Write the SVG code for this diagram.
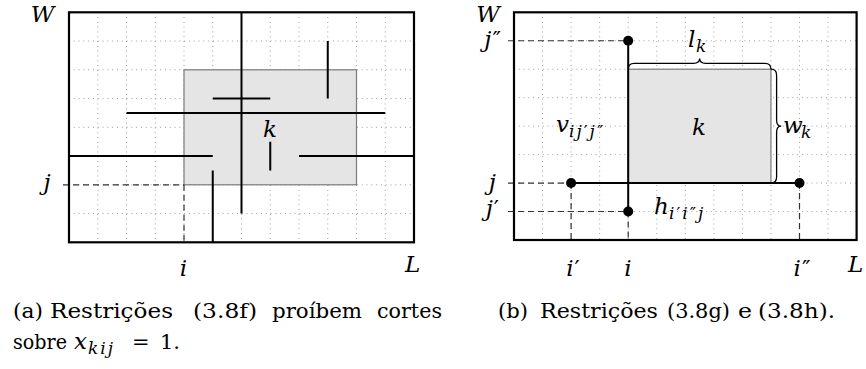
<svg xmlns="http://www.w3.org/2000/svg" width="866" height="369" viewBox="0 0 866 369">
<style>
.bg{fill:#fff}
.frame{fill:none;stroke:#000;stroke-width:2.2}
.grid{fill:none;stroke:#8a8a8a;stroke-width:0.9;stroke-dasharray:0.9 3.9}
.item{fill:#e5e5e5;stroke:#7a7a7a;stroke-width:1.2}
.cut{fill:none;stroke:#000;stroke-width:2}
.dash{fill:none;stroke:#333;stroke-width:1.2;stroke-dasharray:6 4}
.brace{fill:none;stroke:#000;stroke-width:1.3}
.dot{fill:#000}
.math{font-family:DejaVu Serif;font-style:italic;font-size:23px;fill:#000}
.sub{font-family:DejaVu Serif;font-style:italic;font-size:17px;letter-spacing:2px;fill:#000}
.pr{font-style:normal}
.cap{font-family:DejaVu Serif;font-size:21px;fill:#000}
</style>
<rect class="bg" x="0" y="0" width="866" height="369"/>

<!-- Panel (a) -->
<g id="panel-a" font-family="DejaVu Serif">
  <g id="a-grid">
    <path class="grid" d="M97.75,12.3V242.3M126.5,12.3V242.3M155.25,12.3V242.3M184,12.3V242.3M212.75,12.3V242.3M241.5,12.3V242.3M270.25,12.3V242.3M299,12.3V242.3M327.75,12.3V242.3M356.5,12.3V242.3M385.25,12.3V242.3M69,41.05H414M69,69.8H414M69,98.55H414M69,127.3H414M69,156.05H414M69,184.8H414M69,213.55H414"/>
  </g>
  <g id="a-item-k">
    <rect class="item" x="184" y="69.8" width="172.5" height="115"/>
    <text class="math" x="270" y="137" text-anchor="middle">k</text>
  </g>
  <g id="a-guides">
    <path class="dash" d="M63,184.8H184M184,184.8V242.3"/>
  </g>
  <g id="a-cuts">
    <path class="cut" d="M241.5,12.3V213.55M212.75,98.55H270.25M327.75,41.05V98.55M126.5,112.9H385.25M270.25,141.7V170.4M69,156.05H212.75M299,156.05H414M212.75,170.4V242.3"/>
  </g>
  <rect id="a-frame" class="frame" x="69" y="12.3" width="345" height="230"/>
  <g id="a-labels">
    <text class="math" x="42.5" y="22" text-anchor="middle">W</text>
    <text class="math" x="47" y="190" text-anchor="middle">j</text>
    <text class="math" x="183.5" y="276" text-anchor="middle">i</text>
    <text class="math" x="405" y="272">L</text>
  </g>
</g>

<!-- Panel (b) -->
<g id="panel-b" font-family="DejaVu Serif">
  <g id="b-grid">
    <path class="grid" d="M542.55,12.3V240M571.1,12.3V240M599.65,12.3V240M628.2,12.3V240M656.75,12.3V240M685.3,12.3V240M713.85,12.3V240M742.4,12.3V240M770.95,12.3V240M799.5,12.3V240M828.05,12.3V240M514,40.76H856.6M514,69.22H856.6M514,97.68H856.6M514,126.14H856.6M514,154.6H856.6M514,183.06H856.6M514,211.52H856.6"/>
  </g>
  <g id="b-item-k">
    <rect class="item" x="628.2" y="69.22" width="142.75" height="113.84"/>
    <text class="math" x="699" y="135" text-anchor="middle">k</text>
  </g>
  <g id="b-guides">
    <path class="dash" d="M508,40.76H628.2M508,183.06H571.1M508,211.52H628.2M571.1,183.06V240M628.2,211.52V240M799.5,183.06V240"/>
  </g>
  <g id="b-cuts">
    <path class="cut" d="M628.2,40.76V211.52M571.1,183.06H799.5"/>
    <circle class="dot" cx="628.2" cy="40.76" r="5"/>
    <circle class="dot" cx="628.2" cy="211.52" r="5"/>
    <circle class="dot" cx="571.1" cy="183.06" r="5"/>
    <circle class="dot" cx="799.5" cy="183.06" r="5"/>
  </g>
  <g id="b-braces">
    <path class="brace" d="M628.2,69.22Q628.2,63.3 634.2,63.3H693.6Q699.6,63.3 699.6,58.5Q699.6,63.3 705.6,63.3H765Q771,63.3 771,69.22"/>
    <path class="brace" d="M771,69.22Q776.6,69.22 776.6,75.2V120.2Q776.6,126.14 781.2,126.14Q776.6,126.14 776.6,132.1V177Q776.6,183.06 771,183.06"/>
  </g>
  <rect id="b-frame" class="frame" x="514" y="12.3" width="342.6" height="227.7"/>
  <g id="b-labels">
    <text class="math" x="488" y="22" text-anchor="middle">W</text>
    <text class="math" x="501" y="47" text-anchor="end">j<tspan class="pr" dx="1">″</tspan></text>
    <text class="math" x="496" y="190" text-anchor="end">j</text>
    <text class="math" x="499" y="216" text-anchor="end">j<tspan class="pr" dx="1">′</tspan></text>
    <text class="math" x="573" y="276" text-anchor="middle">i<tspan class="pr" dx="1">′</tspan></text>
    <text class="math" x="628" y="276" text-anchor="middle">i</text>
    <text class="math" x="802" y="276" text-anchor="middle">i<tspan class="pr" dx="1">″</tspan></text>
    <text class="math" x="848" y="272">L</text>
    <text class="math" x="688" y="47">l</text>
    <text class="sub" x="696" y="52">k</text>
    <text class="math" x="783" y="133">w</text>
    <text class="sub" x="801" y="138">k</text>
    <text class="math" x="556" y="132">v</text>
    <text class="sub" x="569" y="137">ij<tspan class="pr">′</tspan>j<tspan class="pr">″</tspan></text>
    <text class="math" x="654" y="214">h</text>
    <text class="sub" x="669" y="219">i<tspan class="pr">′</tspan>i<tspan class="pr">″</tspan>j</text>
  </g>
</g>

<!-- Captions -->
<g id="caption-a" font-family="DejaVu Serif">
  <text class="cap" y="317.5">
    <tspan x="13" textLength="30" lengthAdjust="spacingAndGlyphs">(a)</tspan>
    <tspan x="50" textLength="123" lengthAdjust="spacingAndGlyphs">Restrições</tspan>
    <tspan x="193" textLength="64" lengthAdjust="spacingAndGlyphs">(3.8f)</tspan>
    <tspan x="272" textLength="90" lengthAdjust="spacingAndGlyphs">proíbem</tspan>
    <tspan x="377" textLength="65" lengthAdjust="spacingAndGlyphs">cortes</tspan>
  </text>
  <text class="cap" x="13" y="348.5" textLength="54" lengthAdjust="spacingAndGlyphs">sobre</text>
  <text class="math" x="74" y="348.5">x</text>
  <text class="sub" x="88" y="353.5">kij</text>
  <text class="cap" x="132" y="348.5">=</text>
  <text class="cap" x="160" y="348.5">1.</text>
</g>
<g id="caption-b" font-family="DejaVu Serif">
  <text class="cap" y="317.5">
    <tspan x="498" textLength="30" lengthAdjust="spacingAndGlyphs">(b)</tspan>
    <tspan x="540" textLength="118" lengthAdjust="spacingAndGlyphs">Restrições</tspan>
    <tspan x="667" textLength="63" lengthAdjust="spacingAndGlyphs">(3.8g)</tspan>
    <tspan x="738" textLength="14" lengthAdjust="spacingAndGlyphs">e</tspan>
    <tspan x="758" textLength="77" lengthAdjust="spacingAndGlyphs">(3.8h).</tspan>
  </text>
</g>
</svg>
